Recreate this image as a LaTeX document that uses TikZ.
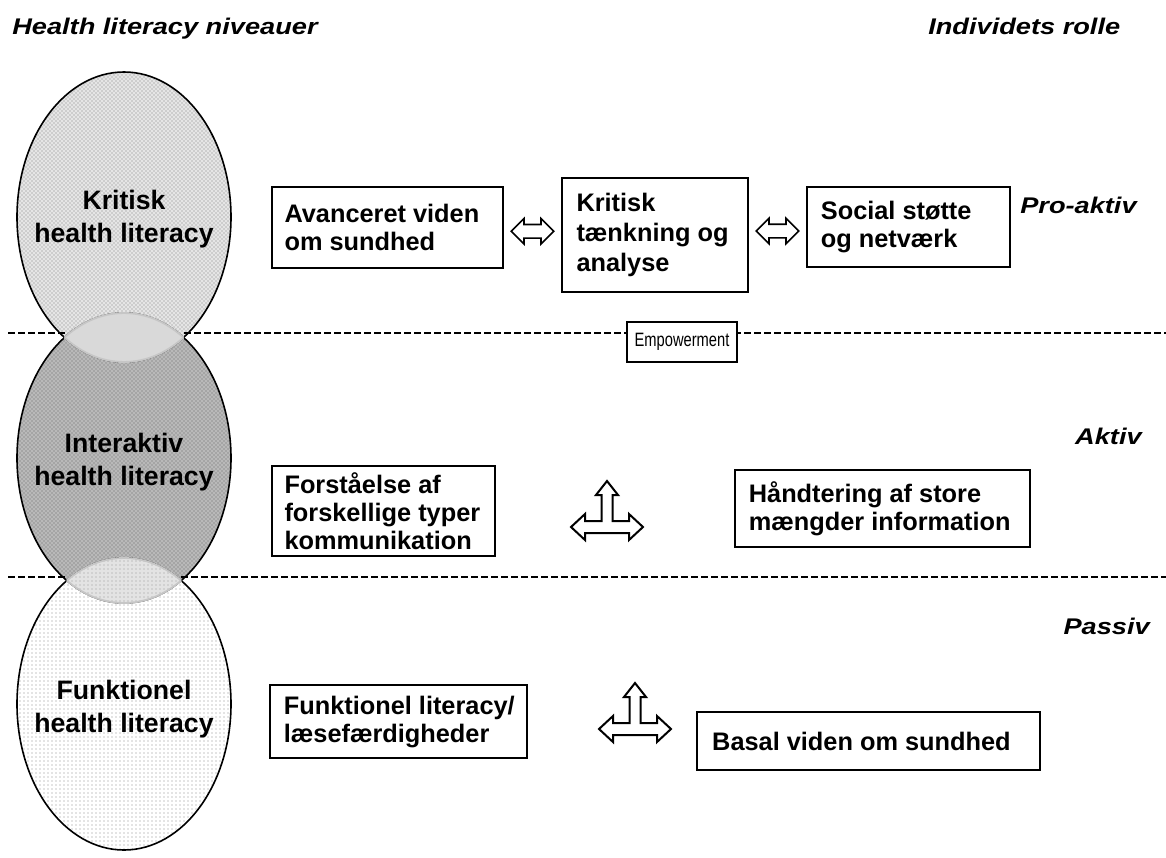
\documentclass[tikz,border=0pt]{standalone}
\usepackage{fontspec}
\setmainfont{Liberation Sans}
\newfontfamily\widefont[FakeStretch=1.2]{Liberation Sans}
\newfontfamily\narrowfont[FakeStretch=0.76]{Liberation Sans}
\usetikzlibrary{shapes.geometric,shapes.arrows,patterns,calc}
\begin{document}
\begin{tikzpicture}[x=0.75pt,y=-0.75pt,
  ell/.style={ellipse, minimum width=160.5pt, minimum height=217.5pt, inner sep=0pt, align=center, font=\bfseries\fontsize{20}{24.5}\selectfont},
  hbox/.style={draw, line width=1.6pt, fill=white, inner sep=0pt},
  btext/.style={anchor=west, align=left, inner sep=0pt, font=\bfseries\fontsize{19}{21}\selectfont},
  headtxt/.style={inner sep=0pt, font=\widefont\bfseries\itshape\fontsize{17}{20}\selectfont},
  sepline/.style={dash pattern=on 5pt off 2.5pt, line width=1.5pt},
  dbl/.style={double arrow, draw, line width=1.2pt, fill=white, inner sep=4.5pt, double arrow head extend=4.5pt, minimum height=32pt},
  tri/.style={draw, line width=1.5pt, fill=white, line join=miter},
  outline/.style={draw=black, line width=1.2pt},
  triarrow/.pic={\draw[tri] (-36,0) -- (-22,-13) -- (-22,-6) -- (-5.5,-6) -- (-5.5,-32) -- (-11,-32) -- (0,-46) -- (11,-32) -- (5.5,-32) -- (5.5,-6) -- (22,-6) -- (22,-13) -- (36,0) -- (22,13) -- (22,6) -- (-22,6) -- (-22,13) -- cycle;}
]
\useasboundingbox (0,0) rectangle (1166,857);
% ellipse fills
\fill[gray!20] (124,217) ellipse [x radius=107, y radius=145];
\path[pattern=crosshatch dots, pattern color=gray] (124,217) ellipse [x radius=107, y radius=145];
\fill[white] (124,704) ellipse [x radius=107, y radius=146];
\path[pattern=dots, pattern color=gray!90] (124,704) ellipse [x radius=107, y radius=146];
\fill[gray!55] (124,458) ellipse [x radius=107, y radius=145];
\path[pattern=crosshatch dots, pattern color=black!60] (124,458) ellipse [x radius=107, y radius=145];
% outlines
\draw[outline] (124,217) ellipse [x radius=107, y radius=145];
\draw[outline] (124,704) ellipse [x radius=107, y radius=146];
\draw[outline] (124,458) ellipse [x radius=107, y radius=145];
% lenses
\begin{scope}
  \clip (124,217) ellipse [x radius=107, y radius=145];
  \fill[gray!30] (124,458) ellipse [x radius=107, y radius=145];
  \draw[gray!45, line width=1.4pt] (124,458) ellipse [x radius=107, y radius=145];
\end{scope}
\begin{scope}
  \clip (124,458) ellipse [x radius=107, y radius=145];
  \draw[gray!45, line width=1.4pt] (124,217) ellipse [x radius=107, y radius=145];
\end{scope}
\begin{scope}
  \clip (124,704) ellipse [x radius=107, y radius=146];
  \fill[gray!22] (124,458) ellipse [x radius=107, y radius=145];
  \path[pattern=dots, pattern color=gray!80] (124,458) ellipse [x radius=107, y radius=145];
  \draw[gray!45, line width=1.4pt] (124,458) ellipse [x radius=107, y radius=145];
\end{scope}
\begin{scope}
  \clip (124,458) ellipse [x radius=107, y radius=145];
  \draw[gray!45, line width=1.4pt] (124,704) ellipse [x radius=107, y radius=146];
\end{scope}
% ellipse labels
\node[ell] (kr) at (124,219) {Kritisk\\health literacy};
\node[ell] (in) at (124,462) {Interaktiv\\health literacy};
\node[ell] (fu) at (124,709) {Funktionel\\health literacy};
% separators
\draw[sepline] (8,333) -- (65,333);
\draw[sepline] (184,333) -- (1166,333);
\draw[sepline] (8,577) -- (67,577);
\draw[sepline] (181,577) -- (1166,577);
\node[draw, line width=1.1pt, fill=white, minimum width=82.5pt, minimum height=30pt, inner sep=0pt, font=\narrowfont\fontsize{14.5}{16}\selectfont] (emp) at (682,342) {Empowerment};
% headings
\node[headtxt, anchor=base west] (tl) at (12,34) {Health literacy niveauer};
\node[headtxt, anchor=base west] (tr) at (928,34) {Individets rolle};
\node[headtxt, anchor=base west] (pa) at (1020,213) {Pro-aktiv};
\node[headtxt, anchor=base east] (ak) at (1142,444) {Aktiv};
\node[headtxt, anchor=base east] (pv) at (1150,634) {Passiv};
% boxes
\node[hbox, minimum width=173.25pt, minimum height=60.75pt] (b1) at (387.5,227.5) {};
\node[btext] at ([xshift=10pt]b1.west) {Avanceret viden\\om sundhed};
\node[hbox, minimum width=139.5pt, minimum height=85.5pt] (b2) at (655,235) {};
\node[btext, font=\bfseries\fontsize{19}{22.5}\selectfont] at ([xshift=11.5pt]b2.west) {Kritisk\\tænkning og\\analyse};
\node[hbox, minimum width=152.25pt, minimum height=60pt] (b3) at (908.5,227) {};
\node[btext] at ([xshift=11pt]b3.west) {Social støtte\\og netværk};
\node[hbox, minimum width=167.25pt, minimum height=67.5pt] (b4) at (383.5,511) {};
\node[btext] at ([xshift=10pt]b4.west) {Forståelse af\\forskellige typer\\kommunikation};
\node[hbox, minimum width=221.25pt, minimum height=57.75pt] (b5) at (882.5,508.5) {};
\node[btext] at ([xshift=11pt]b5.west) {Håndtering af store\\mængder information};
\node[hbox, minimum width=192.75pt, minimum height=54.75pt] (b6) at (398.5,721.5) {};
\node[btext] at ([xshift=11pt]b6.west) {Funktionel literacy/\\læsefærdigheder};
\node[hbox, minimum width=257.25pt, minimum height=43.5pt] (b7) at (868.5,741) {};
\node[btext] at ([xshift=12pt]b7.west) {Basal viden om sundhed};
% arrows
\node[dbl] (d1) at ($(b1.east)!0.5!(b2.west)$ |- 0,221) {};
\node[dbl] (d2) at ($(b2.east)!0.5!(b3.west)$ |- 0,221) {};
\pic at (607,527) {triarrow};
\pic at (635,729) {triarrow};
\end{tikzpicture}
\end{document}
